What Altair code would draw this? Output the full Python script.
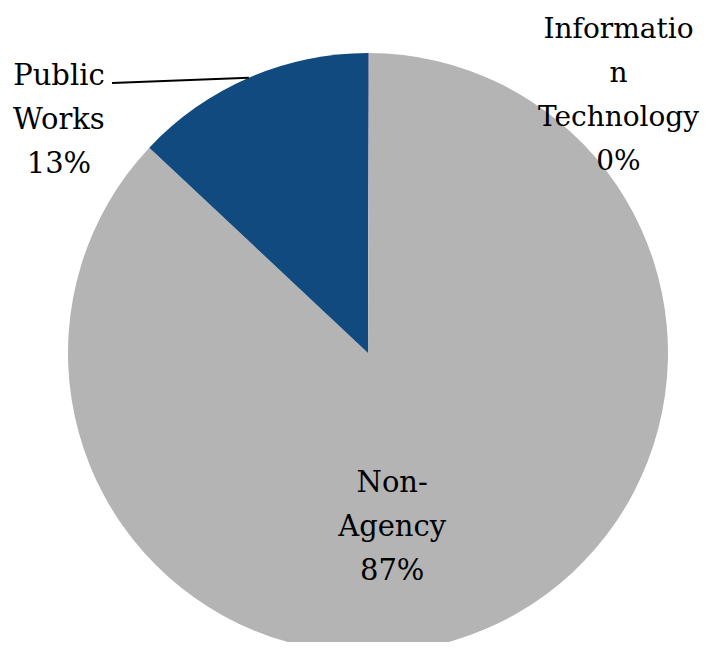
import math
import altair as alt
import pandas as pd

# ---- data ----
categories = ["Information Technology", "Non-Agency", "Public Works"]
values = [0.06, 86.94, 13.0]
labels = ["Informatio\nn\nTechnology\n0%", "Non-\nAgency\n87%", "Public\nWorks\n13%"]
order = [0, 1, 2]
colors = ["#7B82A6", "#B4B4B4", "#114A7E"]

df = pd.DataFrame({"category": categories, "value": values, "label": labels, "ord": order})

# ---- layout ----
W, H = 694, 634
CX, CY, R = 360, 345, 300
FONT = "DejaVu Serif"
theta_scale = alt.Scale(domain=[0, 100], range=[0, 2 * math.pi])

base = alt.Chart(df)

pie = base.mark_arc(outerRadius=R).encode(
    theta=alt.Theta("value:Q", stack=True, scale=theta_scale),
    color=alt.Color("category:N", scale=alt.Scale(domain=categories, range=colors), legend=None),
    order=alt.Order("ord:Q"),
    x=alt.value(CX),
    y=alt.value(CY),
)

lab_base = base.transform_window(
    cum="sum(value)", sort=[alt.SortField("ord")], frame=[None, 0]
).transform_calculate(mid="datum.cum - datum.value / 2")


def label_layer(cat, radius, dx, dy, size=29):
    return lab_base.transform_filter(alt.datum.category == cat).mark_text(
        radius=radius, dx=dx, dy=dy, lineBreak="\n", font=FONT, fontSize=size,
        lineHeight=44, align="center", baseline="middle", color="black",
    ).encode(
        theta=alt.Theta("mid:Q", stack=False, scale=theta_scale),
        text="label:N",
        x=alt.value(CX),
        y=alt.value(CY),
    )


lab_it = label_layer("Information Technology", 260, 250, -63, size=28)
lab_na = label_layer("Non-Agency", 180, -47, -35)
lab_pw = label_layer("Public Works", 320, -182, 17)

# leader line from the Public Works slice mid-angle on the rim to its label
total = sum(values)
pw_mid = (sum(values[:2]) + values[2] / 2) / total * 2 * math.pi
x_rim = CX + R * math.sin(pw_mid)
y_rim = CY - R * math.cos(pw_mid)
leader = base.transform_filter(alt.datum.category == "Public Works").mark_rule(
    color="black", strokeWidth=2
).encode(
    x=alt.value(x_rim), y=alt.value(y_rim), x2=alt.value(104), y2=alt.value(75)
)

chart = alt.layer(pie, leader, lab_it, lab_na, lab_pw).properties(
    width=W, height=H, autosize=alt.AutoSizeParams(type="none"), padding=0
).configure_view(strokeWidth=0)

chart.save("out.html", embed_options={"renderer": "svg", "actions": False})
